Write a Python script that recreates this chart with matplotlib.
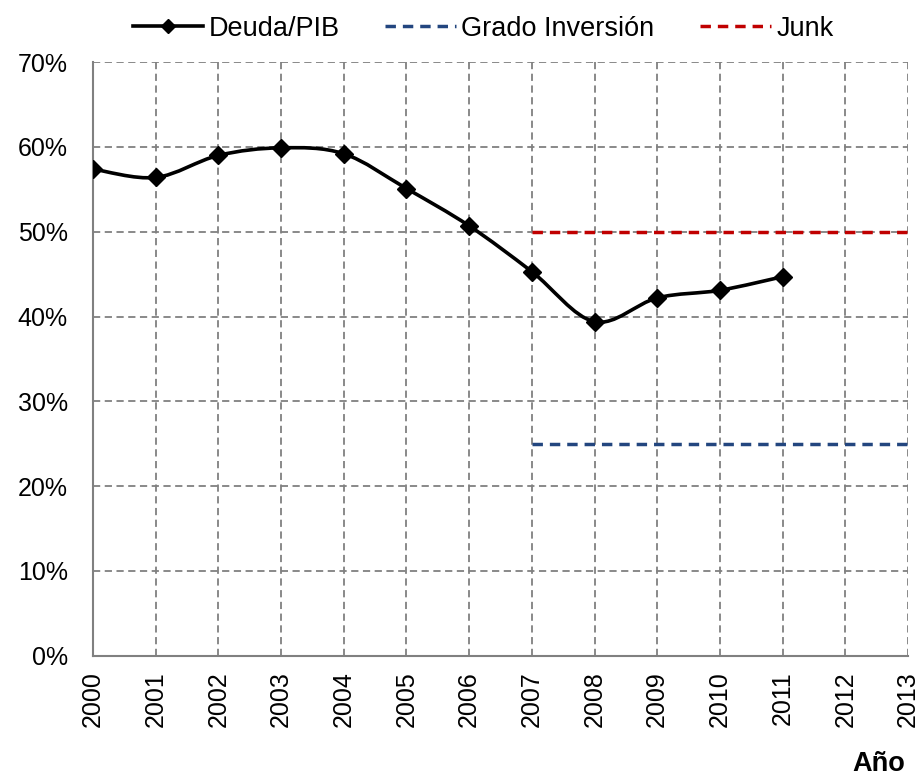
import matplotlib.pyplot as plt
import numpy as np
from matplotlib.path import Path
from matplotlib.patches import PathPatch
from matplotlib.lines import Line2D

plt.rcParams['font.family'] = ['Liberation Sans', 'DejaVu Sans']

years = [2000, 2001, 2002, 2003, 2004, 2005, 2006, 2007, 2008, 2009, 2010, 2011]
deudaPib = [57.4, 56.4, 59.0, 59.9, 59.2, 55.1, 50.7, 45.3, 39.4, 42.2, 43.1, 44.7]
gradoYears = [2007, 2013]
gradoInversion = [25, 25]
junkYears = [2007, 2013]
junk = [50, 50]
yTicks = [0, 10, 20, 30, 40, 50, 60, 70]
xTicks = list(range(2000, 2014))

fig = plt.figure(figsize=(9.2, 7.77), dpi=100)
ax = fig.add_axes([0.101, 0.156, 0.886, 0.764])

# smoothed line like excel (bezier through the points)
x = np.array(years, dtype=float)
y = np.array(deudaPib, dtype=float)
verts = [(x[0], y[0])]
codes = [Path.MOVETO]
for i in range(len(x) - 1):
    x0, y0 = (x[i - 1], y[i - 1]) if i > 0 else (x[i], y[i])
    x3, y3 = (x[i + 2], y[i + 2]) if i + 2 < len(x) else (x[i + 1], y[i + 1])
    c1 = (x[i] + (x[i + 1] - x0) / 6, y[i] + (y[i + 1] - y0) / 6)
    c2 = (x[i + 1] - (x3 - x[i]) / 6, y[i + 1] - (y3 - y[i]) / 6)
    verts += [c1, c2, (x[i + 1], y[i + 1])]
    codes += [Path.CURVE4] * 3
ax.add_patch(PathPatch(Path(verts, codes), facecolor='none', edgecolor='black', lw=2.6, zorder=3))
ax.plot(years, deudaPib, linestyle='none', marker='D', color='black', markersize=9.5, zorder=4)

ax.plot(gradoYears, gradoInversion, color='#23467f', lw=2.5, dashes=(3, 2), zorder=3)
ax.plot(junkYears, junk, color='#c00000', lw=2.5, dashes=(3, 2), zorder=3)

ax.set_xlim(2000, 2013)
ax.set_ylim(0, 70)
ax.set_xticks(xTicks)
ax.set_xticklabels([str(t) for t in xTicks], rotation=90, fontsize=18)
ax.set_yticks(yTicks)
ax.set_yticklabels([f'{t}%' for t in yTicks], fontsize=18)
ax.tick_params(axis='x', length=0, pad=11)
ax.tick_params(axis='y', length=0, pad=18)
ax.grid(True, color='#808080', linestyle=(0, (4, 2.5)), linewidth=1.3)
for side in ['top', 'right']:
    ax.spines[side].set_visible(False)
for side in ['left', 'bottom']:
    ax.spines[side].set_color('#808080')
    ax.spines[side].set_linewidth(1.5)

handles = [
    Line2D([], [], color='black', lw=2.6, marker='D', markersize=7),
    Line2D([], [], color='#23467f', lw=2.5, dashes=(3, 2)),
    Line2D([], [], color='#c00000', lw=2.5, dashes=(3, 2)),
]
fig.legend(handles, ['Deuda/PIB', 'Grado Inversión', 'Junk'], loc='center', bbox_to_anchor=(0.525, 0.963),
           ncol=3, frameon=False, fontsize=19.5, handlelength=2.6, handletextpad=0.2, columnspacing=1.7)

fig.text(0.955, 0.0, 'Año', fontsize=19.5, fontweight='bold', ha='center', va='bottom')

fig.savefig('out.png', dpi=100)
